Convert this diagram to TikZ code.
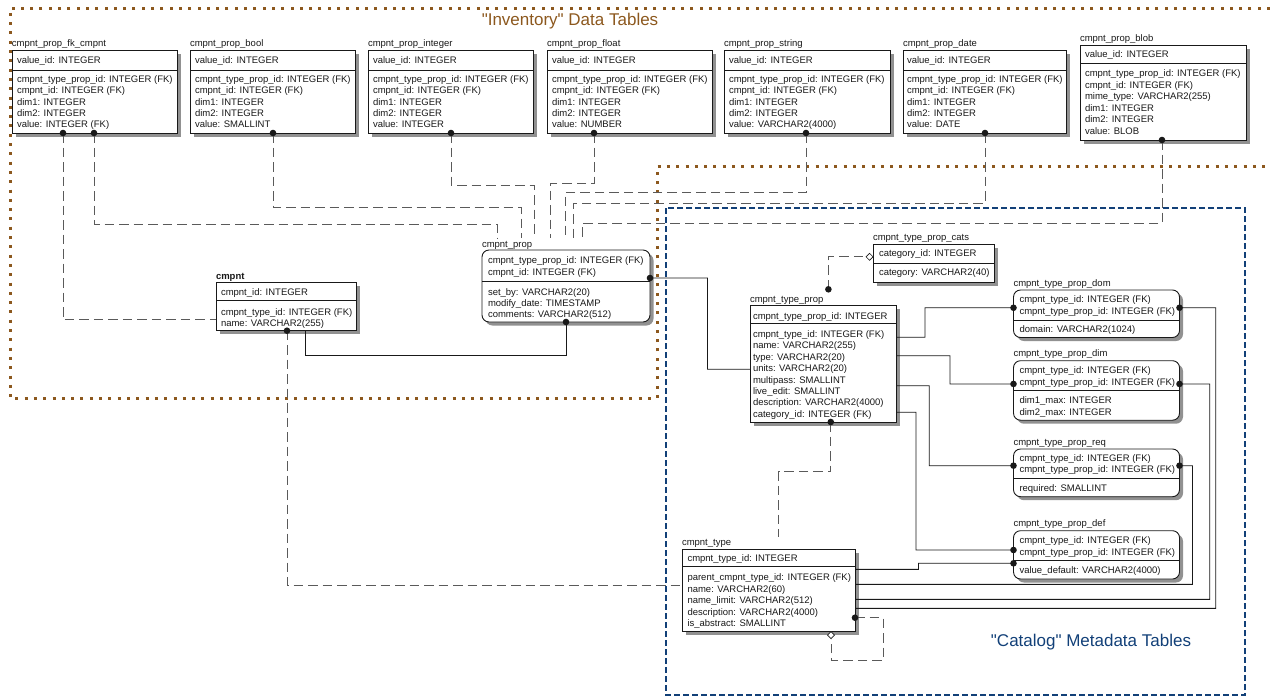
\documentclass[tikz,border=0pt]{standalone}
\usepackage{fontspec}
\setmainfont{Liberation Sans}
\usetikzlibrary{calc}
\definecolor{brn}{RGB}{140,88,30}
\definecolor{blu}{RGB}{18,64,120}
\definecolor{dk}{RGB}{25,25,25}
\definecolor{dg}{RGB}{90,90,90}
\definecolor{shd}{RGB}{145,145,145}
\tikzset{
  tbox/.style={draw=dk,line width=0.9pt,fill=white,outer sep=0pt,inner sep=0pt,anchor=north west},
  rbox/.style={tbox,rounded corners=7pt},
  tshd/.style={fill=shd},
  rshd/.style={fill=shd,rounded corners=7pt},
  txt/.style={font=\fontsize{9.5}{11.4}\selectfont,inner sep=0pt,outer sep=0pt,text=dk,anchor=base west},
  sepl/.style={draw=dk,line width=0.8pt},
  scon/.style={draw=dk,line width=0.8pt},
  dcon/.style={draw=dg,line width=0.85pt,dash pattern=on 9.5pt off 5pt},
  brnline/.style={draw=brn,line width=3pt,dash pattern=on 3pt off 6.3pt},
  bluline/.style={draw=blu,line width=2.3pt,dash pattern=on 6pt off 3pt},
  lbl/.style={font=\fontsize{17}{20}\selectfont,inner sep=0pt},
  hdiam/.style={draw=dk,fill=white,line width=0.7pt}
}
\newcommand{\erbox}[7]{%
  \fill[#2shd] ({#3+3.5},{#4+3.5}) rectangle ++(#5,#6);
  \node[#2box,minimum width=#5pt,minimum height=#6pt] (#1) at (#3,#4) {};
  \draw[sepl] (#3,#7) -- ++(#5,0);
}
\newcommand{\errows}[5]{%
  \foreach \rw [count=\ri] in {#5} {\node[txt] (#1\ri) at (#2,{#3+(\ri-1)*#4}) {\ignorespaces\rw};}
}
\newcommand{\erdot}[1]{\fill[dk] (#1) circle[radius=3.3pt];}
\catcode`\_=12
\begin{document}
\begin{tikzpicture}[x=1pt,y=-1pt]
\useasboundingbox (0,0) rectangle (1270,697);
% group boundaries
\draw[brnline] (1270,8) -- (10,8) -- (10,398) -- (657,398) -- (657,166) -- (1270,166);
\draw[bluline] (666,208) rectangle (1245,695);
\node[lbl,text=brn] (invl) at (570,21) {\textquotedbl Inventory\textquotedbl{} Data Tables};
\node[lbl,text=blu] (catl) at (1091,642) {\textquotedbl Catalog\textquotedbl{} Metadata Tables};

% ---------- inventory tables ----------
\erbox{fkc}{t}{12}{50}{165}{83}{70}
\node[txt] (fkcT) at (12,46.5) {cmpnt_prop_fk_cmpnt};
\node[txt] (fkcK) at (17,63.5) {value_id: INTEGER};
\errows{fkcA}{17}{82.5}{11.3}{cmpnt_type_prop_id: INTEGER (FK),cmpnt_id: INTEGER (FK),dim1: INTEGER,dim2: INTEGER,value: INTEGER (FK)}

\erbox{bool}{t}{190}{50}{165}{83}{70}
\node[txt] (boolT) at (190,46.5) {cmpnt_prop_bool};
\node[txt] (boolK) at (195,63.5) {value_id: INTEGER};
\errows{boolA}{195}{82.5}{11.3}{cmpnt_type_prop_id: INTEGER (FK),cmpnt_id: INTEGER (FK),dim1: INTEGER,dim2: INTEGER,value: SMALLINT}

\erbox{pint}{t}{368}{50}{165}{83}{70}
\node[txt] (pintT) at (368,46.5) {cmpnt_prop_integer};
\node[txt] (pintK) at (373,63.5) {value_id: INTEGER};
\errows{pintA}{373}{82.5}{11.3}{cmpnt_type_prop_id: INTEGER (FK),cmpnt_id: INTEGER (FK),dim1: INTEGER,dim2: INTEGER,value: INTEGER}

\erbox{flt}{t}{547}{50}{165}{83}{70}
\node[txt] (fltT) at (547,46.5) {cmpnt_prop_float};
\node[txt] (fltK) at (552,63.5) {value_id: INTEGER};
\errows{fltA}{552}{82.5}{11.3}{cmpnt_type_prop_id: INTEGER (FK),cmpnt_id: INTEGER (FK),dim1: INTEGER,dim2: INTEGER,value: NUMBER}

\erbox{str}{t}{724}{50}{166}{83}{70}
\node[txt] (strT) at (724,46.5) {cmpnt_prop_string};
\node[txt] (strK) at (729,63.5) {value_id: INTEGER};
\errows{strA}{729}{82.5}{11.3}{cmpnt_type_prop_id: INTEGER (FK),cmpnt_id: INTEGER (FK),dim1: INTEGER,dim2: INTEGER,value: VARCHAR2(4000)}

\erbox{date}{t}{903}{50}{163}{83}{70}
\node[txt] (dateT) at (903,46.5) {cmpnt_prop_date};
\node[txt] (dateK) at (907,63.5) {value_id: INTEGER};
\errows{dateA}{907}{82.5}{11.3}{cmpnt_type_prop_id: INTEGER (FK),cmpnt_id: INTEGER (FK),dim1: INTEGER,dim2: INTEGER,value: DATE}

\erbox{blob}{t}{1080}{45}{166}{95}{63}
\node[txt] (blobT) at (1080,41.5) {cmpnt_prop_blob};
\node[txt] (blobK) at (1085,57.8) {value_id: INTEGER};
\errows{blobA}{1085}{76.5}{11.5}{cmpnt_type_prop_id: INTEGER (FK),cmpnt_id: INTEGER (FK),mime_type: VARCHAR2(255),dim1: INTEGER,dim2: INTEGER,value: BLOB}

\erbox{cm}{t}{216}{282.7}{140.7}{48}{300.7}
\node[txt,font=\fontsize{9.5}{11.4}\selectfont\bfseries] (cmT) at (216,279.5) {cmpnt};
\node[txt] (cmK) at (221,295.6) {cmpnt_id: INTEGER};
\errows{cmA}{221}{315}{11}{cmpnt_type_id: INTEGER (FK),name: VARCHAR2(255)}

\erbox{cp}{r}{482}{250}{168}{72}{281.5}
\node[txt] (cpT) at (482,247.5) {cmpnt_prop};
\errows{cpK}{488}{263.7}{11.3}{cmpnt_type_prop_id: INTEGER (FK),cmpnt_id: INTEGER (FK)}
\errows{cpA}{488}{295}{11.3}{set_by: VARCHAR2(20),modify_date: TIMESTAMP,comments: VARCHAR2(512)}

% ---------- catalog tables ----------
\erbox{cats}{t}{873}{244.5}{121}{37.5}{263.5}
\node[txt] (catsT) at (873,240.5) {cmpnt_type_prop_cats};
\node[txt] (catsK) at (879,256.7) {category_id: INTEGER};
\node[txt] (catsA) at (879,275.7) {category: VARCHAR2(40)};

\erbox{ctp}{t}{750}{305.5}{146}{116.5}{323.5}
\node[txt] (ctpT) at (750,302.5) {cmpnt_type_prop};
\node[txt] (ctpK) at (753,319.2) {cmpnt_type_prop_id: INTEGER};
\errows{ctpA}{753}{337.5}{11.4}{cmpnt_type_id: INTEGER (FK),name: VARCHAR2(255),type: VARCHAR2(20),units: VARCHAR2(20),multipass: SMALLINT,live_edit: SMALLINT,description: VARCHAR2(4000),category_id: INTEGER (FK)}

\erbox{dom}{r}{1013.5}{290}{166}{47.5}{320}
\node[txt] (domT) at (1013.5,286.2) {cmpnt_type_prop_dom};
\errows{domK}{1019.5}{302.5}{11.5}{cmpnt_type_id: INTEGER (FK),cmpnt_type_prop_id: INTEGER (FK)}
\node[txt] (domA) at (1019.5,332.5) {domain: VARCHAR2(1024)};

\erbox{pdim}{r}{1013.5}{360.7}{166}{59.5}{390.7}
\node[txt] (pdimT) at (1013.5,356.8) {cmpnt_type_prop_dim};
\errows{pdimK}{1019.5}{373.5}{11.6}{cmpnt_type_id: INTEGER (FK),cmpnt_type_prop_id: INTEGER (FK)}
\errows{pdimA}{1019.5}{403.5}{11.6}{dim1_max: INTEGER,dim2_max: INTEGER}

\erbox{req}{r}{1013.5}{449}{166}{47.7}{478.3}
\node[txt] (reqT) at (1013.5,445.2) {cmpnt_type_prop_req};
\errows{reqK}{1019.5}{461.2}{11.6}{cmpnt_type_id: INTEGER (FK),cmpnt_type_prop_id: INTEGER (FK)}
\node[txt] (reqA) at (1019.5,491.2) {required: SMALLINT};

\erbox{pdef}{r}{1013.5}{530.7}{166}{48.3}{560.7}
\node[txt] (pdefT) at (1013.5,526.8) {cmpnt_type_prop_def};
\errows{pdefK}{1019.5}{543.5}{11.6}{cmpnt_type_id: INTEGER (FK),cmpnt_type_prop_id: INTEGER (FK)}
\node[txt] (pdefA) at (1019.5,573.5) {value_default: VARCHAR2(4000)};

\erbox{ct}{t}{682}{549}{173}{82.7}{566.7}
\node[txt] (ctT) at (682,545.7) {cmpnt_type};
\node[txt] (ctK) at (687.5,561.8) {cmpnt_type_id: INTEGER};
\errows{ctA}{687.5}{580.5}{11.6}{parent_cmpnt_type_id: INTEGER (FK),name: VARCHAR2(60),name_limit: VARCHAR2(512),description: VARCHAR2(4000),is_abstract: SMALLINT}

% ---------- connectors ----------
\draw[dcon] ([xshift=51pt]fkc.south west) |- ([yshift=-13pt]cm.west);
\draw[dcon] ([xshift=82pt]fkc.south west) |- (497,224) -- ([xshift=15pt,yshift=12pt]cp.north west);
\draw[dcon] ([xshift=83pt]bool.south west) |- (521,207) -- ([xshift=39pt,yshift=12pt]cp.north west);
\draw[dcon] ([xshift=83pt]pint.south west) |- (534,185) -- ([xshift=52pt,yshift=12pt]cp.north west);
\draw[dcon] ([xshift=47pt]flt.south west) |- (550,183) -- ([xshift=68pt,yshift=12pt]cp.north west);
\draw[dcon] ([xshift=82pt]str.south west) |- (565,192) -- ([xshift=83pt,yshift=12pt]cp.north west);
\draw[dcon] ([xshift=82pt]date.south west) |- (573,203) -- ([xshift=91pt,yshift=12pt]cp.north west);
\draw[dcon] ([xshift=82pt]blob.south west) |- (582,223) -- ([xshift=100pt,yshift=12pt]cp.north west);

\draw[scon] ([xshift=89pt]cm.south west) |- (566,355) -- ([xshift=84pt]cp.south west);
\draw[dcon] ([xshift=71pt]cm.south west) |- ([yshift=5.35pt]ct.west);
\draw[scon] ([yshift=8pt]cp.east) -| (707.5,369.3) -- ([yshift=-5.5pt]ctp.west);

\draw[dcon] ([xshift=78.4pt,yshift=16.2pt]ctp.north west) |- ([xshift=-7pt,yshift=6.5pt]cats.west);
\draw[hdiam] ([yshift=6.5pt]cats.west) -- ++(-3.5,3.5) -- ++(-3.5,-3.5) -- ++(3.5,-3.5) -- cycle;

\draw[scon] ([yshift=26.5pt]ctp.east) -| (925,307.7) -- ([yshift=6pt]dom.west);
\draw[scon] ([yshift=8pt]ctp.east) -| (950,384) -- ([yshift=6.5pt]pdim.west);
\draw[scon] ([yshift=-22pt]ctp.east) -| (929.3,465.7) -- ([yshift=7.2pt]req.west);
\draw[scon] ([yshift=-48.5pt]ctp.east) -| (916,550) -- ([yshift=4.85pt]pdef.west);
\draw[scon] ([yshift=21pt]ct.east) -| (918.4,563.3) -- ([yshift=-8.45pt]pdef.west);
\draw[scon] ([yshift=6pt]ct.east) -| (1192.4,465.7) -- ([yshift=7.2pt]req.east);
\draw[scon] ([yshift=-9pt]ct.east) -| (1209.7,384) -- ([yshift=6.5pt]pdim.east);
\draw[scon] ([yshift=-18pt]ct.east) -| (1215.7,307.7) -- ([yshift=6pt]dom.east);

\draw[dcon] ([xshift=80.8pt]ctp.south west) |- (778.6,471.7) -- ([xshift=96.6pt,yshift=12pt]ct.north west);
\draw[dcon] ([yshift=-27.35pt]ct.east) -| (883,660.7) -| ([xshift=149pt,yshift=-7pt]ct.south west);
\draw[hdiam] ([xshift=149pt]ct.south west) -- ++(3.5,3.5) -- ++(-3.5,3.5) -- ++(-3.5,-3.5) -- cycle;

% ---------- dots ----------
\erdot{[xshift=51pt]fkc.south west}
\erdot{[xshift=82pt]fkc.south west}
\erdot{[xshift=83pt]bool.south west}
\erdot{[xshift=83pt]pint.south west}
\erdot{[xshift=47pt]flt.south west}
\erdot{[xshift=82pt]str.south west}
\erdot{[xshift=82pt]date.south west}
\erdot{[xshift=82pt]blob.south west}
\erdot{[xshift=71pt]cm.south west}
\erdot{[yshift=8pt]cp.east}
\erdot{[xshift=84pt]cp.south west}
\erdot{[xshift=78.4pt,yshift=16.2pt]ctp.north west}
\erdot{[xshift=80.8pt]ctp.south west}
\erdot{[yshift=6pt]dom.west}
\erdot{[yshift=6pt]dom.east}
\erdot{[yshift=6.5pt]pdim.west}
\erdot{[yshift=6.5pt]pdim.east}
\erdot{[yshift=7.2pt]req.west}
\erdot{[yshift=7.2pt]req.east}
\erdot{[yshift=4.85pt]pdef.west}
\erdot{[yshift=-8.45pt]pdef.west}
\erdot{[yshift=-27.35pt]ct.east}
\end{tikzpicture}
\end{document}
